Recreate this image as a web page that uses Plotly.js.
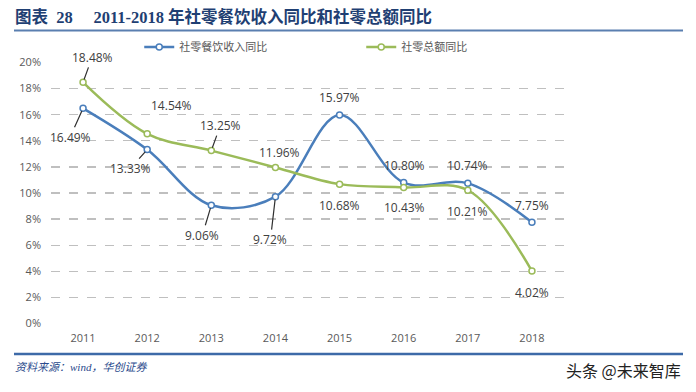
<!DOCTYPE html>
<html>
<head>
<meta charset="utf-8">
<script src="https://cdn.plot.ly/plotly-3.0.1.min.js"></script>
<style>
html,body{margin:0;padding:0;background:#fff;}
#chart{width:696px;height:392px;}
</style>
</head>
<body>
<div id="chart"></div>
<script>
const years = ['2011','2012','2013','2014','2015','2016','2017','2018'];
const cateringYoY = [16.49, 13.33, 9.06, 9.72, 15.97, 10.80, 10.74, 7.75];
const retailYoY = [18.48, 14.54, 13.25, 11.96, 10.68, 10.43, 10.21, 4.02];
const seriesNames = ['社零餐饮收入同比', '社零总额同比'];
const yTicks = [0, 2, 4, 6, 8, 10, 12, 14, 16, 18, 20];

// label offsets in pixels [dx, dy, leader]
const cateringLabelPos = [[-13, 29, true], [-17, 19, true], [-9, 30, true], [-5, 43, true], [0, -18, false], [1, -17, false], [0, -18, false], [0, -17, false]];
const retailLabelPos = [[9, -25, true], [24, -28, false], [9, -25, true], [4, -15, false], [0, 21, false], [1, 20, false], [0, 21, false], [0, 21, false]];

const BLUE = '#4a7ebb', GREEN = '#9bbb59';

function mk(y, name, color) {
  return {
    x: years, y: y, name: name, type: 'scatter', mode: 'lines+markers',
    line: {color: color, width: 2.5, shape: 'spline', smoothing: 1},
    marker: {symbol: 'circle', size: 6, color: '#ffffff', line: {color: color, width: 1.5}}
  };
}

const annotations = [];
function addLabels(vals, pos) {
  vals.forEach((v, i) => {
    const p = pos[i];
    const base = {
      x: i, y: v, xref: 'x', yref: 'y',
      text: v.toFixed(2) + '%',
      font: {family: 'Open Sans, Noto Sans, sans-serif', size: 12, color: '#404040'}
    };
    if (p[2]) {
      Object.assign(base, {showarrow: true, ax: p[0], ay: p[1], arrowhead: 0, arrowwidth: 1.2, arrowcolor: '#303030', standoff: 3});
    } else {
      Object.assign(base, {showarrow: false, xshift: p[0], yshift: -p[1]});
    }
    annotations.push(base);
  });
}
addLabels(cateringYoY, cateringLabelPos);
addLabels(retailYoY, retailLabelPos);

annotations.push({
  xref: 'paper', yref: 'paper', x: -38/513, y: 1 + 45/262, xanchor: 'left', yanchor: 'middle', showarrow: false,
  text: '<b>图表&nbsp;&nbsp;28&nbsp;&nbsp;&nbsp;&nbsp;&nbsp;2011-2018 年社零餐饮收入同比和社零总额同比</b>',
  font: {family: 'Liberation Serif, Noto Sans CJK SC, serif', size: 16.5, color: '#1f3f73'}
});
annotations.push({
  xref: 'paper', yref: 'paper', x: -38/513, y: -43/262, xanchor: 'left', yanchor: 'middle', showarrow: false,
  text: '<i>资料来源：wind，华创证券</i>',
  font: {family: 'Liberation Serif, Noto Sans CJK SC, serif', size: 11, color: '#2a4a8c'}
});
annotations.push({
  xref: 'paper', yref: 'paper', x: 632/513, y: -46/262, xanchor: 'right', yanchor: 'middle', showarrow: false,
  text: '头条 @未来智库',
  font: {family: 'Noto Sans CJK SC, sans-serif', size: 16, color: '#222222'}
});

const layout = {
  width: 696, height: 392,
  margin: {l: 51, r: 132, t: 62, b: 68},
  paper_bgcolor: '#ffffff', plot_bgcolor: '#ffffff',
  showlegend: true,
  legend: {
    orientation: 'h', x: 0.172, y: 1 + 15/262, xanchor: 'left', yanchor: 'middle',
    font: {family: 'Noto Sans CJK SC, sans-serif', size: 11, color: '#595959'},
    entrywidth: 177, entrywidthmode: 'pixels', bgcolor: 'rgba(0,0,0,0)'
  },
  xaxis: {
    type: 'category', showgrid: false, zeroline: false, showline: false, ticks: '',
    tickfont: {family: 'Open Sans, sans-serif', size: 11, color: '#595959'},
    range: [-0.5, 7.5], fixedrange: true, ticklabelstandoff: 6
  },
  yaxis: {
    range: [-0.04, 20.04], tickvals: yTicks, ticktext: yTicks.map(t => t + '%'),
    showgrid: true, gridcolor: '#bfbfbf', gridwidth: 1.3, griddash: 'dash',
    zeroline: false, showline: false, ticks: '',
    tickfont: {family: 'Open Sans, sans-serif', size: 11, color: '#595959'},
    ticklabelstandoff: 9
  },
  shapes: [
    {type: 'line', xref: 'paper', yref: 'paper', x0: -37/513, x1: 632/513, y0: 1 + 31.5/262, y1: 1 + 31.5/262, line: {color: '#5a7fb0', width: 2}},
    {type: 'line', xref: 'paper', yref: 'paper', x0: -37/513, x1: 632/513, y0: -30/262, y1: -30/262, line: {color: '#3d6aa8', width: 2.5}}
  ],
  annotations: annotations
};

Plotly.newPlot('chart', [mk(cateringYoY, seriesNames[0], BLUE), mk(retailYoY, seriesNames[1], GREEN)], layout, {displayModeBar: false, staticPlot: true});
</script>
</body>
</html>
